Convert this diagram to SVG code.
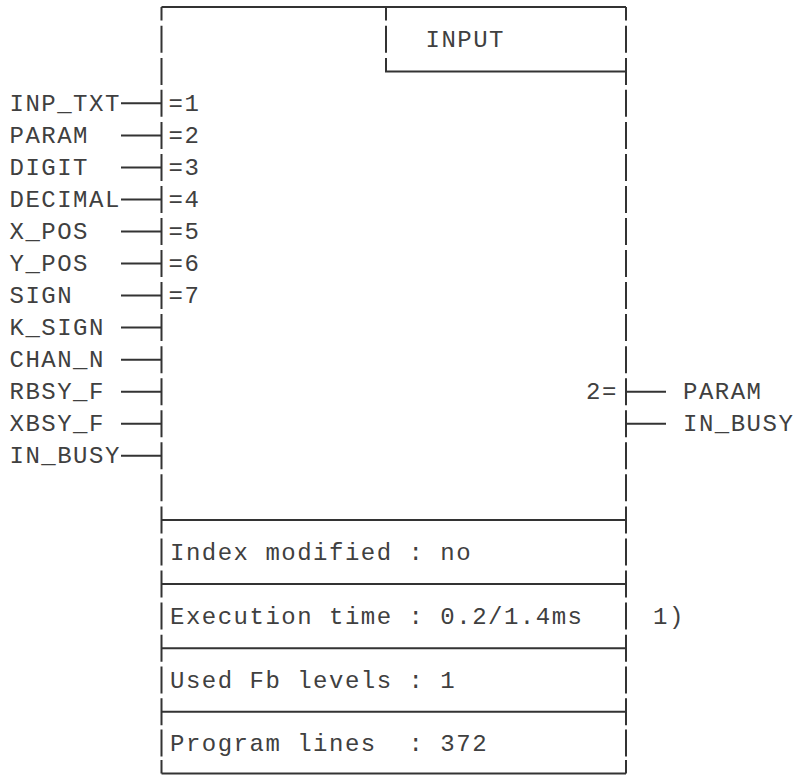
<svg xmlns="http://www.w3.org/2000/svg" width="797" height="776" viewBox="0 0 797 776">
<style>
.t{font-family:"Liberation Mono","Courier New",monospace;font-size:24px;letter-spacing:1.5px;fill:#404040;white-space:pre}
.ln{stroke:#333;stroke-width:2;fill:none}
</style>
<rect width="797" height="776" fill="#fff"/>
<g id="block">
<path class="ln" d="M161.5,7V20.5M161.5,25.7V52.7M161.5,57.9V84.9M161.5,89.8V116.8M161.5,121.9V148.9M161.5,153.9V180.9M161.5,186V213M161.5,218V245M161.5,250.1V277.1M161.5,282.1V309.1M161.5,314.1V341.1M161.5,346.2V373.2M161.5,378.2V405.2M161.5,410.2V437.2M161.5,442.2V469.2M161.5,474.3V501.3M161.5,506.5V533.5M161.5,538.5V565.5M161.5,570.5V597.5M161.5,602.6V629.6M161.5,634.7V661.7M161.5,666.5V693.5M161.5,698.3V725.3M161.5,729.5V756.5M161.5,760V773.5"/>
<path class="ln" d="M626,7V20.5M626,25.7V52.7M626,57.9V84.9M626,89.8V116.8M626,121.9V148.9M626,153.9V180.9M626,186V213M626,218V245M626,250.1V277.1M626,282.1V309.1M626,314.1V341.1M626,346.2V373.2M626,378.2V405.2M626,410.2V437.2M626,442.2V469.2M626,474.3V501.3M626,506.5V533.5M626,538.5V565.5M626,570.5V597.5M626,602.6V629.6M626,634.7V661.7M626,666.5V693.5M626,698.3V725.3M626,729.5V756.5M626,760V773.5"/>
<path class="ln" d="M161.5,7H626M161.5,520H626M161.5,584H626M161.5,648.2H626M161.5,711.8H626M161.5,773.5H626"/>
</g>
<g id="title">
<path class="ln" d="M386,7V20.5M386,25.7V52.7M386,57.9V71.4H626"/>
<text class="t" x="425.5" y="46.5">INPUT</text>
</g>
<g id="info">
<text class="t" x="170" y="559.5">Index modified : no</text>
<text class="t" x="170" y="623.5">Execution time : 0.2/1.4ms</text>
<text class="t" x="653" y="623.5">1)</text>
<text class="t" x="170" y="687.5">Used Fb levels : 1</text>
<text class="t" x="170" y="751">Program lines  : 372</text>
</g>
<g id="inputs">
<text class="t" x="9.5" y="111">INP_TXT</text>
<text class="t" x="9.5" y="143">PARAM</text>
<text class="t" x="9.5" y="175">DIGIT</text>
<text class="t" x="9.5" y="207">DECIMAL</text>
<text class="t" x="9.5" y="239">X_POS</text>
<text class="t" x="9.5" y="271">Y_POS</text>
<text class="t" x="9.5" y="303">SIGN</text>
<text class="t" x="9.5" y="335">K_SIGN</text>
<text class="t" x="9.5" y="367">CHAN_N</text>
<text class="t" x="9.5" y="399">RBSY_F</text>
<text class="t" x="9.5" y="431">XBSY_F</text>
<text class="t" x="9.5" y="463">IN_BUSY</text>
<text class="t" x="168.5" y="111">=1</text>
<text class="t" x="168.5" y="143">=2</text>
<text class="t" x="168.5" y="175">=3</text>
<text class="t" x="168.5" y="207">=4</text>
<text class="t" x="168.5" y="239">=5</text>
<text class="t" x="168.5" y="271">=6</text>
<text class="t" x="168.5" y="303">=7</text>
</g>
<g id="outputs">
<text class="t" x="586" y="399">2=</text>
<text class="t" x="683" y="399">PARAM</text>
<text class="t" x="683" y="431">IN_BUSY</text>
</g>
<g id="connectors">
<path class="ln" d="M121,103.3H161.5M121,135.4H161.5M121,167.4H161.5M121,199.5H161.5M121,231.5H161.5M121,263.6H161.5M121,295.6H161.5M121,327.6H161.5M121,359.7H161.5M121,391.7H161.5M121,423.7H161.5M121,455.7H161.5"/>
<path class="ln" d="M626,391.7H666M626,423.7H666"/>
</g>
</svg>
